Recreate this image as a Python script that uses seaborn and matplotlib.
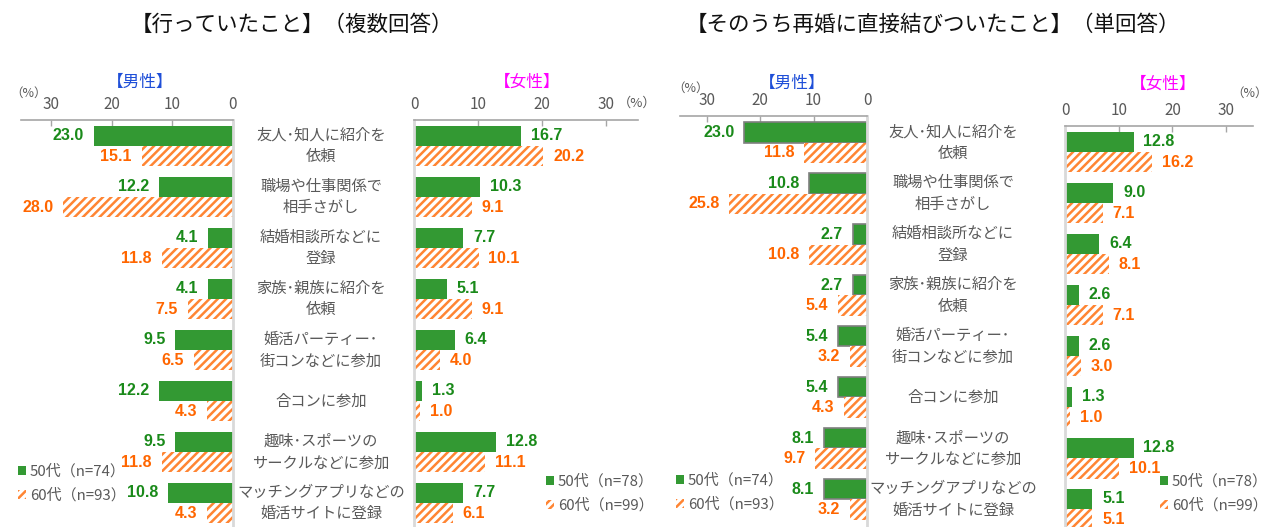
import matplotlib
matplotlib.use("Agg")
import matplotlib.pyplot as plt
from matplotlib.patches import Patch
import seaborn as sns
import pandas as pd

categories = [
    "友人･知人に紹介を\n依頼",
    "職場や仕事関係で\n相手さがし",
    "結婚相談所などに\n登録",
    "家族･親族に紹介を\n依頼",
    "婚活パーティー･\n街コンなどに参加",
    "合コンに参加",
    "趣味･スポーツの\nサークルなどに参加",
    "マッチングアプリなどの\n婚活サイトに登録",
]

# 行っていたこと（複数回答）
multi_male_50 = [23.0, 12.2, 4.1, 4.1, 9.5, 12.2, 9.5, 10.8]
multi_male_60 = [15.1, 28.0, 11.8, 7.5, 6.5, 4.3, 11.8, 4.3]
multi_female_50 = [16.7, 10.3, 7.7, 5.1, 6.4, 1.3, 12.8, 7.7]
multi_female_60 = [20.2, 9.1, 10.1, 9.1, 4.0, 1.0, 11.1, 6.1]

# 再婚に直接結びついたこと（単回答）
single_male_50 = [23.0, 10.8, 2.7, 2.7, 5.4, 5.4, 8.1, 8.1]
single_male_60 = [11.8, 25.8, 10.8, 5.4, 3.2, 4.3, 9.7, 3.2]
single_female_50 = [12.8, 9.0, 6.4, 2.6, 2.6, 1.3, 12.8, 5.1]
single_female_60 = [16.2, 7.1, 8.1, 7.1, 3.0, 1.0, 10.1, 5.1]

ticks = [0, 10, 20, 30]
male_legend = ["50代（n=74）", "60代（n=93）"]
female_legend = ["50代（n=78）", "60代（n=99）"]

GREEN = "#339933"
ORANGE = "#ff8533"
LBL_GREEN = "#1a8a1a"
LBL_ORANGE = "#ff6600"
GRAY_TXT = "#595959"

sns.set_theme(style="white")
plt.rcParams["font.family"] = ["Noto Sans CJK JP", "DejaVu Sans"]
plt.rcParams["hatch.linewidth"] = 1.8

W, H = 1269, 527
fig = plt.figure(figsize=(W / 100, H / 100), dpi=100)


def fx(x):
    return x / W


def fy(y):
    return 1 - y / H


def make_ax(x0, x1, y0):
    return fig.add_axes([fx(x0), 0, fx(x1 - x0), (H - y0) / H])


def panel(ax, v50, v60, male, top_off, bottom, edge=False):
    df = pd.DataFrame({
        "cat": categories * 2,
        "val": v50 + v60,
        "age": ["50代"] * len(v50) + ["60代"] * len(v60),
    })
    sns.barplot(data=df, y="cat", x="val", hue="age", orient="h",
                palette=[GREEN, "white"], saturation=1, width=0.8,
                legend=False, ax=ax)
    for bar in ax.containers[0]:
        if edge:
            bar.set_edgecolor("#7f7f7f")
            bar.set_linewidth(1.2)
        else:
            bar.set_linewidth(0)
    for bar in ax.containers[1]:
        bar.set_facecolor("white")
        bar.set_edgecolor(ORANGE)
        bar.set_hatch("////")
        bar.set_linewidth(0)

    off = -7 if male else 7
    ha = "right" if male else "left"
    for cont, col in ((ax.containers[0], LBL_GREEN), (ax.containers[1], LBL_ORANGE)):
        for bar in cont:
            w = bar.get_width()
            yc = bar.get_y() + bar.get_height() / 2
            ax.annotate(f"{w:.1f}", (w, yc), xytext=(off, 0),
                        textcoords="offset points", ha=ha, va="center",
                        fontsize=11.5, fontweight="bold", color=col,
                        family=["Liberation Sans Narrow", "Liberation Sans"])

    ax.set_xlim((35, 0) if male else (0, 35))
    ax.set_ylim(bottom, top_off)
    ax.set_xticks(ticks)
    ax.xaxis.tick_top()
    ax.tick_params(axis="x", direction="in", length=4, width=1, pad=5,
                   colors="#a6a6a6", labelcolor=GRAY_TXT, labelsize=11)
    ax.set_yticks([])
    ax.set_xlabel("")
    ax.set_ylabel("")
    for s in ax.spines.values():
        s.set_visible(False)
    ax.spines["top"].set_visible(True)
    ax.spines["top"].set_color("#a6a6a6")
    ax.spines["top"].set_linewidth(1.2)
    side = "right" if male else "left"
    ax.spines[side].set_visible(True)
    ax.spines[side].set_color("#d9d9d9")
    ax.spines[side].set_linewidth(2)


def legend(labels, x, y):
    handles = [Patch(facecolor=GREEN, edgecolor=GREEN, linewidth=0),
               Patch(facecolor="white", edgecolor=ORANGE, hatch="////", linewidth=0)]
    fig.legend(handles, labels, loc="upper left",
               bbox_to_anchor=(fx(x), fy(y)), frameon=False,
               handlelength=0.55, handleheight=0.55, handletextpad=0.25,
               labelspacing=0.65, borderpad=0, borderaxespad=0,
               fontsize=10.8, labelcolor=GRAY_TXT)


# left group
ax1 = make_ax(21, 233, 120)
panel(ax1, multi_male_50, multi_male_60, True, -0.51, 7.47)
ax2 = make_ax(414, 638, 120)
panel(ax2, multi_female_50, multi_female_60, False, -0.51, 7.47)

# right group
ax3 = make_ax(680, 867, 116)
panel(ax3, single_male_50, single_male_60, True, -0.52, 7.54, edge=True)
ax4 = make_ax(1065, 1253, 126)
panel(ax4, single_female_50, single_female_60, False, -0.51, 7.35)

# category labels
for i, c in enumerate(categories):
    for xc, y0 in ((321, 146), (953, 142.5)):
        fig.text(fx(xc), fy(y0 + i * 51), c, ha="center", va="center",
                 fontsize=11, color=GRAY_TXT, linespacing=1.35)

# titles
fig.text(fx(292), fy(25), "【行っていたこと】（複数回答）", ha="center",
         va="center", fontsize=15.5, color="#111111")
fig.text(fx(933), fy(25), "【そのうち再婚に直接結びついたこと】（単回答）",
         ha="center", va="center", fontsize=15.5, color="#111111")

# panel headers
fig.text(fx(140), fy(82), "【男性】", ha="center", va="center", fontsize=12, color="#1f4fd8")
fig.text(fx(527), fy(82), "【女性】", ha="center", va="center", fontsize=12, color="#ff00ff")
fig.text(fx(792), fy(83), "【男性】", ha="center", va="center", fontsize=12, color="#1f4fd8")
fig.text(fx(1163), fy(84), "【女性】", ha="center", va="center", fontsize=12, color="#ff00ff")

# (%) marks
fig.text(fx(29), fy(93), "（%）", ha="center", va="center", fontsize=9, color=GRAY_TXT)
fig.text(fx(637), fy(103), "（%）", ha="center", va="center", fontsize=9.5, color=GRAY_TXT)
fig.text(fx(691), fy(88), "（%）", ha="center", va="center", fontsize=9, color=GRAY_TXT)
fig.text(fx(1250), fy(93), "（%）", ha="center", va="center", fontsize=9, color=GRAY_TXT)

# legends
legend(male_legend, 18, 464)
legend(female_legend, 546, 474)
legend(male_legend, 676, 473)
legend(female_legend, 1160, 474)

fig.savefig("out.png", dpi=100)
